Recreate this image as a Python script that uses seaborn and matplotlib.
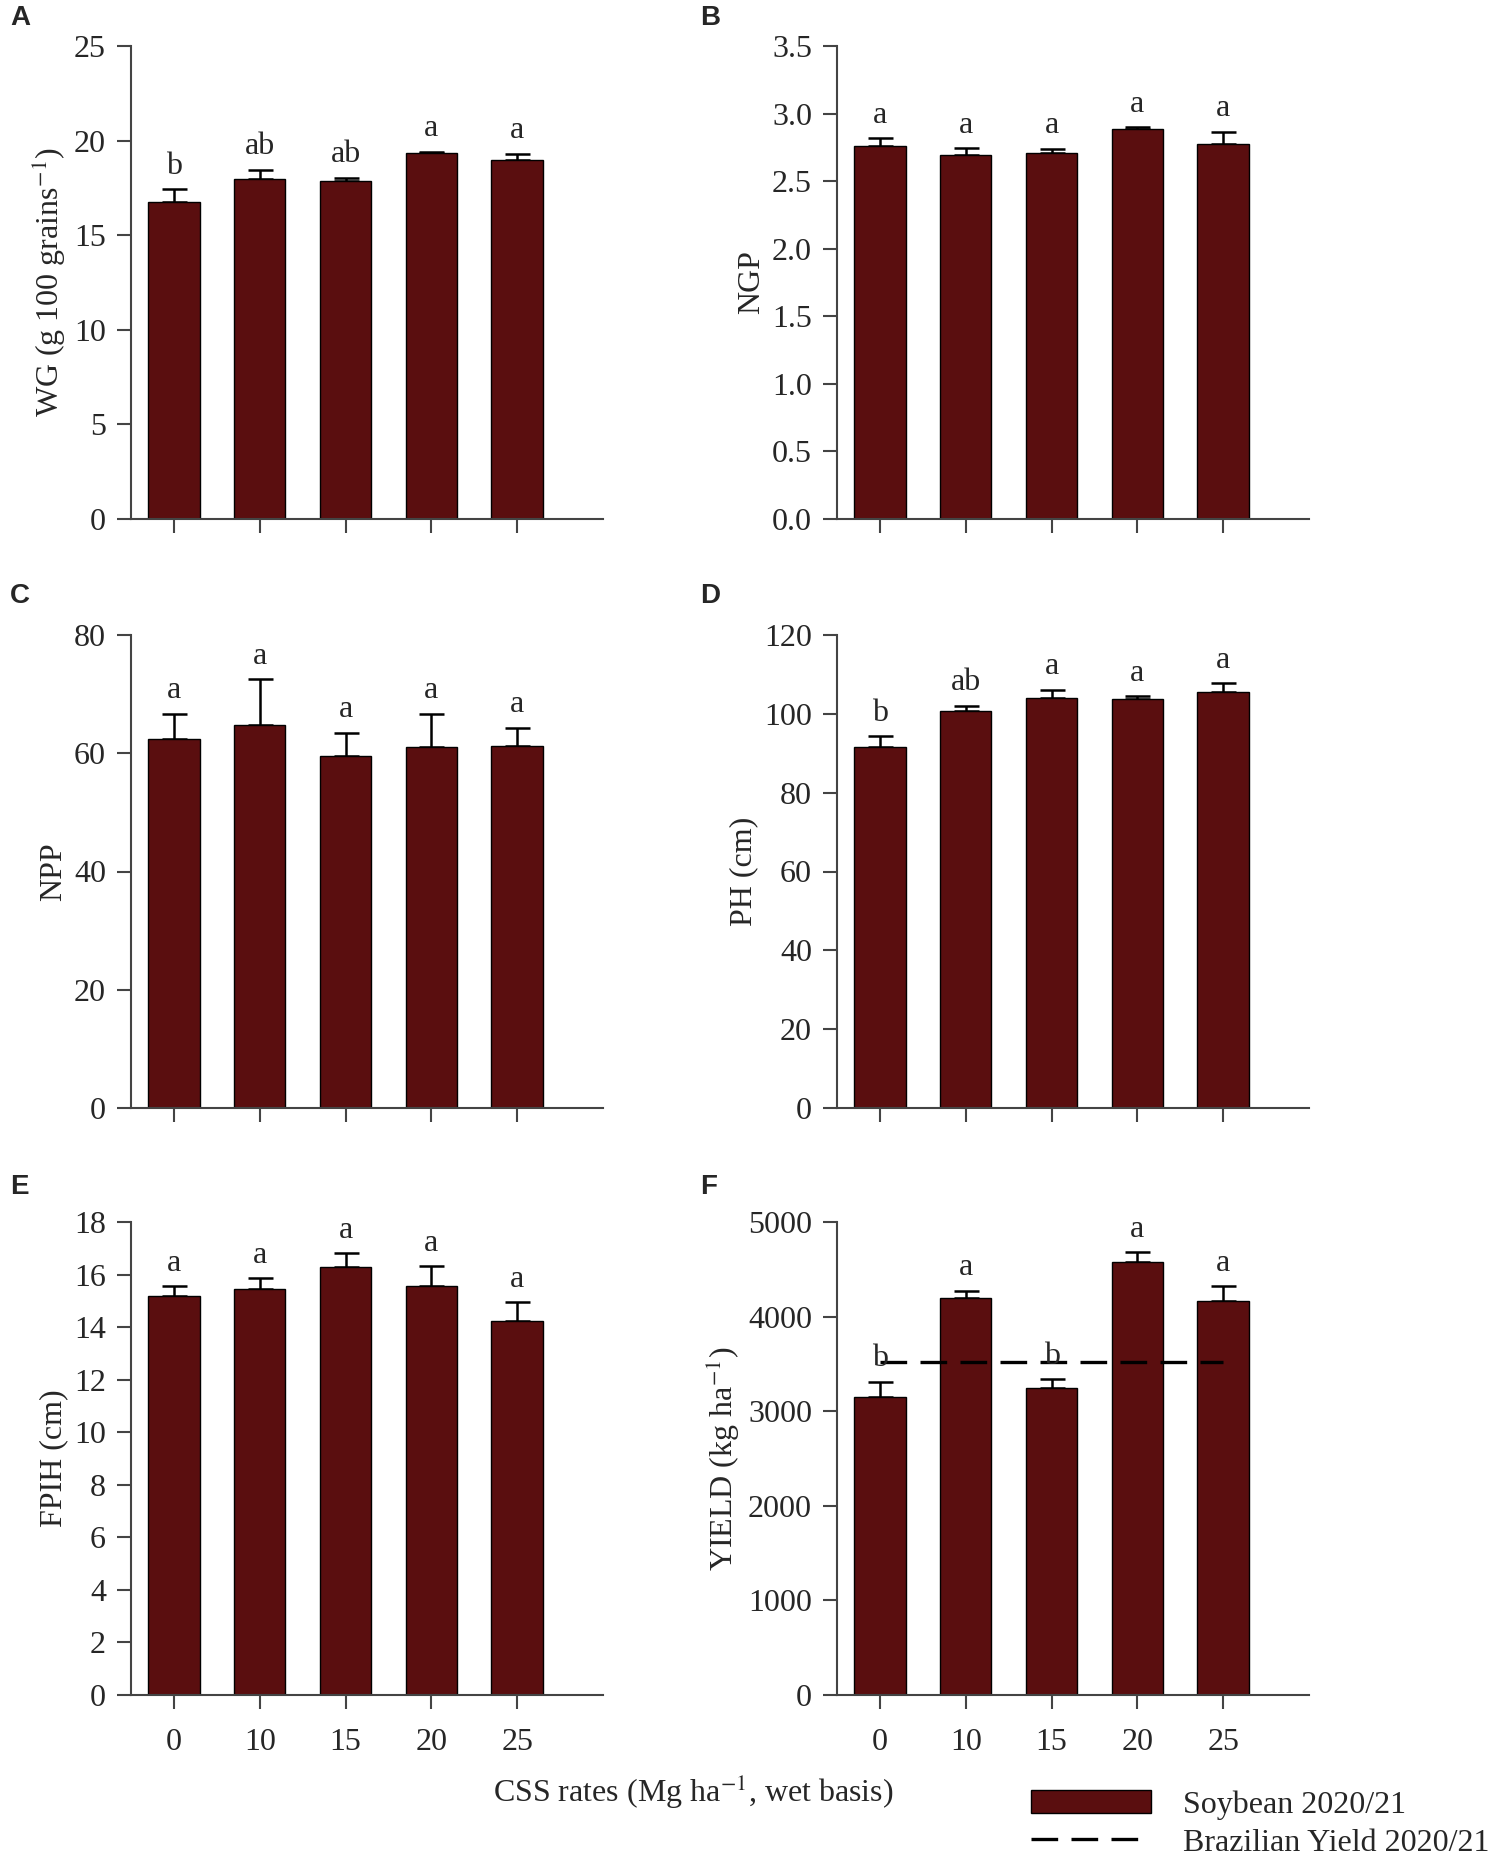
import matplotlib
matplotlib.use("Agg")
import matplotlib.pyplot as plt
import seaborn as sns
import pandas as pd
from matplotlib.patches import Patch
from matplotlib.lines import Line2D

# CSS rates (Mg ha-1)
rates = ['0', '10', '15', '20', '25']

# A - weight of 100 grains
wg = [16.77, 17.99, 17.85, 19.33, 18.99]
wg_err = [0.67, 0.47, 0.19, 0.08, 0.32]
wg_letters = ['b', 'ab', 'ab', 'a', 'a']

# B - number of grains per pod
ngp = [2.762, 2.695, 2.708, 2.884, 2.777]
ngp_err = [0.058, 0.05, 0.032, 0.016, 0.09]
ngp_letters = ['a', 'a', 'a', 'a', 'a']

# C - number of pods per plant
npp = [62.4, 64.8, 59.5, 61.1, 61.2]
npp_err = [4.3, 7.7, 4.0, 5.6, 3.1]
npp_letters = ['a', 'a', 'a', 'a', 'a']

# D - plant height
ph = [91.7, 100.6, 104.1, 103.7, 105.6]
ph_err = [2.7, 1.5, 2.0, 0.8, 2.1]
ph_letters = ['b', 'ab', 'a', 'a', 'a']

# E - first pod insertion height
fpih = [15.20, 15.44, 16.30, 15.56, 14.23]
fpih_err = [0.36, 0.43, 0.52, 0.76, 0.71]
fpih_letters = ['a', 'a', 'a', 'a', 'a']

# F - grain yield
yld = [3149, 4192, 3247, 4579, 4167]
yld_err = [162, 83, 93, 103, 152]
yld_letters = ['b', 'a', 'b', 'a', 'a']
brazil_yield = 3517

bar_color = '#5a0e0f'
axis_color = '#444444'

panels = [
    ('A', wg, wg_err, wg_letters, 'WG (g 100 grains$^{-1}$)', 25, 5, '%d'),
    ('B', ngp, ngp_err, ngp_letters, 'NGP', 3.5, 0.5, '%.1f'),
    ('C', npp, npp_err, npp_letters, 'NPP', 80, 20, '%d'),
    ('D', ph, ph_err, ph_letters, 'PH (cm)', 120, 20, '%d'),
    ('E', fpih, fpih_err, fpih_letters, 'FPIH (cm)', 18, 2, '%d'),
    ('F', yld, yld_err, yld_letters, 'YIELD (kg ha$^{-1}$)', 5000, 1000, '%d'),
]

sns.set_theme(style='ticks')
plt.rcParams['font.family'] = ['Liberation Serif', 'DejaVu Serif']
plt.rcParams['mathtext.fontset'] = 'stix'

W, H = 1505, 1867
fig = plt.figure(figsize=(W / 100, H / 100), dpi=100)

col_left = [131, 837]
col_width = 472
row_top = [46, 635, 1222]
row_height = 473
fs = 23

for k, (tag, vals, errs, letters, ylabel, ymax, ystep, fmt) in enumerate(panels):
    r, c = divmod(k, 2)
    rect = [col_left[c] / W, 1 - (row_top[r] + row_height) / H, col_width / W, row_height / H]
    ax = fig.add_axes(rect)
    df = pd.DataFrame({'rate': rates, 'value': vals})
    sns.barplot(data=df, x='rate', y='value', color=bar_color, saturation=1,
                width=0.6, edgecolor='black', linewidth=1, errorbar=None, ax=ax)
    ax.errorbar(range(len(vals)), vals, yerr=[[0] * len(errs), errs], fmt='none',
                ecolor='black', elinewidth=1.8, capsize=9, capthick=1.8, zorder=0.9)
    for i, (v, e, l) in enumerate(zip(vals, errs, letters)):
        ax.annotate(l, (i, v + e), xytext=(0, 6), textcoords='offset points',
                    ha='center', va='bottom', fontsize=fs, zorder=5)
    if tag == 'F':
        ax.plot([0, len(vals) - 1], [brazil_yield, brazil_yield], color='black',
                lw=2.4, ls='--', dashes=(8, 4), zorder=4)

    ax.set_xlim(-0.5, 5.0)
    ax.set_ylim(0, ymax)
    n = int(round(ymax / ystep))
    ticks = [i * ystep for i in range(n + 1)]
    ax.set_yticks(ticks)
    ax.set_yticklabels([fmt % t for t in ticks])
    ax.set_xlabel('')
    ax.set_ylabel(ylabel, fontsize=fs)
    if r < 2:
        ax.set_xticklabels([])
    sns.despine(ax=ax)
    for s in ['left', 'bottom']:
        ax.spines[s].set_color(axis_color)
        ax.spines[s].set_linewidth(1.5)
    ax.tick_params(axis='both', direction='out', length=10, width=1.5,
                   color=axis_color, labelsize=fs, pad=8)
    ax.tick_params(axis='x', pad=14)

    lx = 10 / W if c == 0 else 700 / W
    ly = 1 - [18, 596, 1187][r] / H
    fig.text(lx, ly, tag, fontsize=20, fontweight='bold', family='Liberation Sans',
             ha='left', va='center')

fig.text(693 / W, 1 - 1792 / H, 'CSS rates (Mg ha$^{-1}$, wet basis)',
         ha='center', va='center', fontsize=fs)

handles = [Patch(facecolor=bar_color, edgecolor='black'),
           Line2D([], [], color='black', lw=2.4, ls='--', dashes=(8, 4))]
fig.legend(handles, ['Soybean 2020/21', 'Brazilian Yield 2020/21'],
           loc='upper left', bbox_to_anchor=(1031 / W, 1 - 1790 / H),
           frameon=False, fontsize=fs, handlelength=3.75, handleheight=0.75,
           handletextpad=1.0, labelspacing=0.25, borderpad=0, borderaxespad=0)

fig.savefig('out.png', dpi=100, facecolor='white')
